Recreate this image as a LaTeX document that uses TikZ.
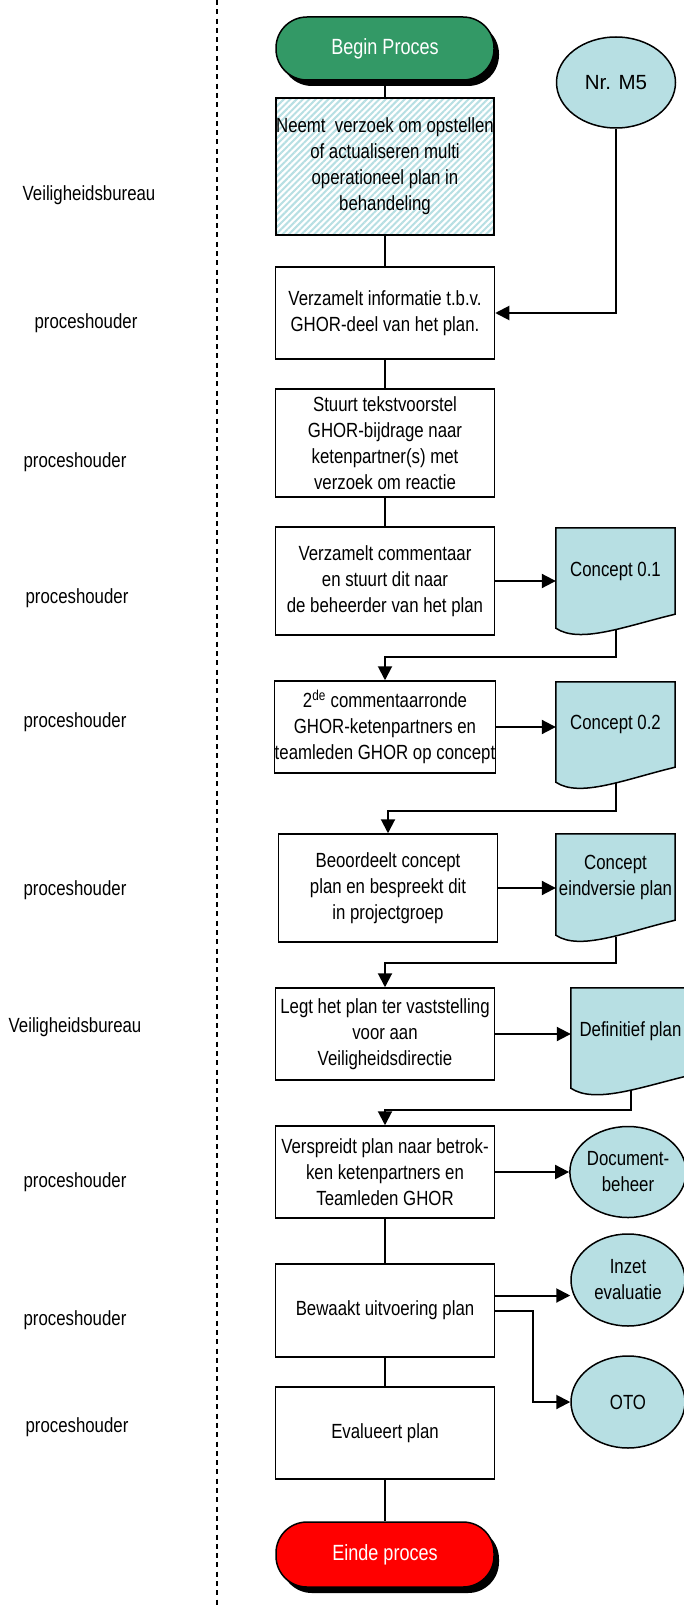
\documentclass[tikz,border=0pt]{standalone}
\usepackage{fontspec}
\setmainfont{Liberation Sans}[FakeStretch=0.82]
\newfontfamily\arialfont{Liberation Sans}
\usetikzlibrary{shapes.geometric,arrows.meta,shadows,patterns.meta}
\definecolor{procgreen}{RGB}{51,153,102}
\definecolor{docblue}{RGB}{183,223,227}
\pgfdeclarelayer{bg}
\pgfsetlayers{bg,main}

\begin{document}
\begin{tikzpicture}[x=1pt, y=-1pt,
        every node/.style={font=\fontsize{20.5}{26}\selectfont, align=center},
        box/.style={draw, line width=1.5pt, minimum width=219, minimum height=92, inner xsep=0pt, inner ysep=2pt},
        hatchbox/.style={box, minimum width=215, minimum height=137, pattern={Lines[angle=45,distance=4.5pt,line width=2pt]}, pattern color=docblue},
        term/.style={draw, line width=1.5pt, rounded corners=31pt, minimum width=218, minimum height=63, text=white,
            font=\fontsize{22}{26}\selectfont, drop shadow={fill=black, opacity=1, shadow xshift=5pt, shadow yshift=-6pt}},
        oval/.style={draw, ellipse, line width=1.5pt, fill=docblue, minimum width=114, minimum height=91, inner sep=0pt},
        doc/.style={minimum width=119, minimum height=86, inner sep=0pt},
        docshape/.style={draw, line width=1.5pt, fill=docblue},
        line/.style={line width=1.5pt},
        arr/.style={line width=2pt, -{Triangle[length=14pt,width=14pt]}}]
    \begin{pgfonlayer}{bg}
        \fill[white] (0,0) rectangle (684,1605);
    \end{pgfonlayer}
    \useasboundingbox (0,0) rectangle (684,1605);

    % scheidingslijn
    \draw[line width=1.5pt, dash pattern=on 5pt off 4.3pt] (217,0) -- (217,1605);

    % rollen
    \node (l1) at (89,195) {Veiligheidsbureau};
    \node (l2) at (86,323) {proceshouder};
    \node (l3) at (75,462) {proceshouder};
    \node (l4) at (77,598) {proceshouder};
    \node (l5) at (75,722) {proceshouder};
    \node (l6) at (75,890) {proceshouder};
    \node (l7) at (75,1027) {Veiligheidsbureau};
    \node (l8) at (75,1182) {proceshouder};
    \node (l9) at (75,1320) {proceshouder};
    \node (l10) at (77,1427) {proceshouder};

    % stappen
    \node[term, fill=procgreen] (beginp) at (385,48.5) {Begin Proces};
    \node[hatchbox] (b1) at (385,166.5) {Neemt\ \ verzoek om opstellen\\of actualiseren multi\\operationeel plan in\\behandeling};
    \node[box] (b2) at (385,313) {Verzamelt informatie t.b.v.\\GHOR-deel van het plan.};
    \node[box, minimum height=108] (b3) at (385,443) {Stuurt tekstvoorstel\\GHOR-bijdrage naar\\ketenpartner(s) met\\verzoek om reactie};
    \node[box, minimum height=108] (b4) at (385,581) {Verzamelt commentaar\\en stuurt dit naar\\de beheerder van het plan};
    \node[box] (b5) at (385,727) {2\textsuperscript{de} commentaarronde\\GHOR-ketenpartners en\\teamleden GHOR op concept};
    \node[box, minimum height=108] (b6) at (388,888) {Beoordeelt concept\\plan en bespreekt dit\\in projectgroep};
    \node[box] (b7) at (385,1034) {Legt het plan ter vaststelling\\voor aan\\Veiligheidsdirectie};
    \node[box] (b8) at (385,1172) {Verspreidt plan naar betrok-\\ken ketenpartners en\\Teamleden GHOR};
    \node[box, minimum height=93] (b9) at (385,1310.5) {Bewaakt uitvoering plan};
    \node[box] (b10) at (385,1433) {Evalueert plan};
    \node[term, fill=red, minimum height=65] (eindep) at (385,1554.5) {Einde proces};

    % documenten en externe processen
    \node[oval, minimum width=119, font=\arialfont\fontsize{20.5}{26}\selectfont] (nr5) at (616,82.5) {Nr. M5};
    \node[doc] (c1) at (615.5,571) {Concept 0.1};
    \node[doc, minimum height=85] (c2) at (615.5,724.5) {Concept 0.2};
    \node[doc] (c3) at (615.5,877) {Concept\\eindversie plan};
    \node[doc, minimum height=87] (c4) at (630.5,1031.5) {Definitief plan};
    \node[oval] (dbeh) at (628,1172) {Document-\\beheer};
    \node[oval, minimum height=92] (inzet) at (628,1280) {Inzet\\evaluatie};
    \node[oval, minimum height=92] (oto) at (628,1402) {OTO};

    \begin{pgfonlayer}{bg}
        \draw[docshape] (c1.south west) ++(0,14) .. controls +(24,16) and +(-50,12) .. (c1.south east) -- (c1.north east) -- (c1.north west) -- cycle;
        \draw[docshape] (c2.south west) ++(0,15) .. controls +(24,16) and +(-50,12) .. (c2.south east) -- (c2.north east) -- (c2.north west) -- cycle;
        \draw[docshape] (c3.south west) ++(0,15) .. controls +(24,16) and +(-50,12) .. (c3.south east) -- (c3.north east) -- (c3.north west) -- cycle;
        \draw[docshape] (c4.south west) ++(0,13) .. controls +(24,16) and +(-50,12) .. (c4.south east) -- (c4.north east) -- (c4.north west) -- cycle;
    \end{pgfonlayer}

    % verbindingen
    \draw[line] (beginp) -- (b1);
    \draw[line] (b1) -- (b2);
    \draw[line] (b2) -- (b3);
    \draw[line] (b3) -- (b4);
    \draw[arr] (nr5) |- (b2);
    \draw[arr] (b4.east) -- (b4.east -| c1.west);
    \draw[arr] ([yshift=-16pt]c1.south) -- ++(0,27) -| (b5.north);
    \draw[arr] (b5.east) -- (b5.east -| c2.west);
    \draw[arr] ([yshift=-16pt]c2.south) -- ++(0,28) -| (b6.north);
    \draw[arr] (b6.east) -- (b6.east -| c3.west);
    \draw[arr] ([yshift=-17pt]c3.south) -- ++(0,26) -| (b7.north);
    \draw[arr] (b7.east) -- (b7.east -| c4.west);
    \draw[arr] ([yshift=-15pt]c4.south) -- ++(0,20) -| (b8.north);
    \draw[arr] (b8) -- (dbeh);
    \draw[line] (b8) -- (b9);
    \draw[arr] ([yshift=15pt]b9.east) -- ([yshift=15pt]b9.east -| inzet.west);
    \draw[arr] (b9.east) -- ++(38,0) |- (oto);
    \draw[line] (b9) -- (b10);
    \draw[line] (b10) -- (eindep);
\end{tikzpicture}
\end{document}
